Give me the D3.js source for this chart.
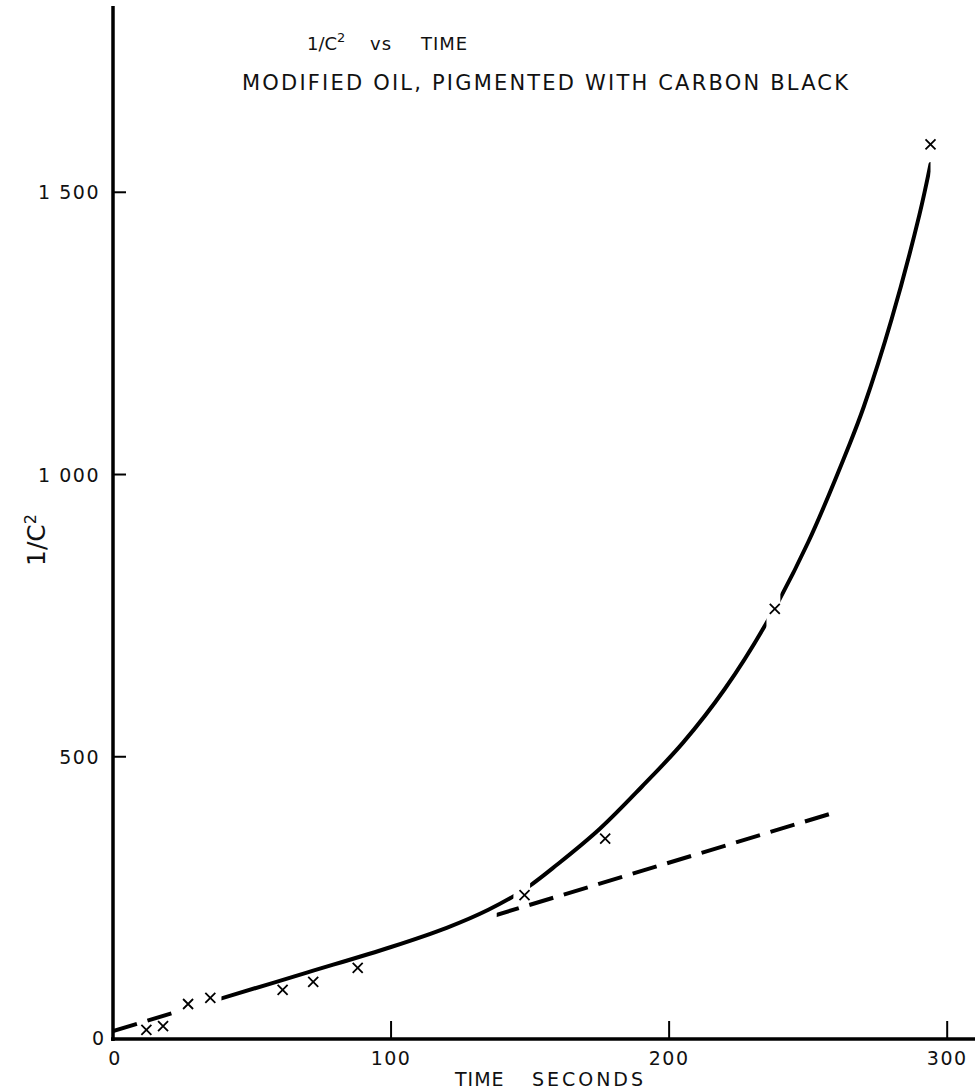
<!DOCTYPE html>
<html>
<head>
<meta charset="utf-8">
<script src="https://cdn.jsdelivr.net/npm/d3@7"></script>
<style>
  body { margin: 0; background: #fff; }
  text { font-family: "DejaVu Sans", sans-serif; fill: #111; }
</style>
</head>
<body>
<div id="chart"></div>
<script>
// Measured points (time s, 1/C^2)
const pointTime = [12, 18, 27, 35, 61, 72, 88, 148, 177, 238, 294];
const pointValue = [16, 23, 62, 73, 87, 101, 126, 255, 355, 762, 1585];

// Hand-drawn fitted curve, knots
const curveTime = [39, 70, 100, 120, 135, 148, 160, 175, 190, 205, 220, 235, 250, 265, 270, 280, 290, 294];
const curveValue = [72, 118, 163, 197, 229, 265, 310, 372, 446, 525, 620, 737, 880, 1055, 1120, 1275, 1460, 1550];
// solid pieces of the curve (gaps where it passes the crosses)
const curvePieces = [[39, 144], [150, 235], [240, 294]];

// Initial straight line (dashed extension)
const lineTime = [0, 260];
const lineValue = [14, 402];
const linePieces = [[0, 23], [138, 260]];

const xTicks = [100, 200, 300];
const yTicks = [500, 1000, 1500];
const yTickLabels = ["500", "1 000", "1 500"];

const W = 979, H = 1090;
const svg = d3.select("#chart").append("svg")
  .attr("width", W).attr("height", H);

const x = d3.scaleLinear().domain([0, 310]).range([113, 975]);
const y = d3.scaleLinear().domain([0, 1830]).range([1039, 6]);

// Axes
svg.append("line")
  .attr("x1", x(0)).attr("x2", x(0))
  .attr("y1", y(1830)).attr("y2", y(0) + 2)
  .attr("stroke", "#000").attr("stroke-width", 3.5);
svg.append("line")
  .attr("x1", x(0) - 2).attr("x2", x(310))
  .attr("y1", y(0)).attr("y2", y(0))
  .attr("stroke", "#000").attr("stroke-width", 3.5);

// X ticks (upward, no tick at 0)
svg.selectAll(".xtick").data(xTicks).enter().append("line")
  .attr("x1", d => x(d)).attr("x2", d => x(d))
  .attr("y1", y(0)).attr("y2", y(0) - 18)
  .attr("stroke", "#000").attr("stroke-width", 2);
svg.selectAll(".xlab").data([0].concat(xTicks)).enter().append("text")
  .attr("x", d => x(d) + (d === 0 ? 2 : 0))
  .attr("y", y(0) + 26)
  .attr("text-anchor", "middle")
  .style("font-size", "19px")
  .style("letter-spacing", "1.5px")
  .text(d => d);

// Y ticks (rightward)
svg.selectAll(".ytick").data(yTicks).enter().append("line")
  .attr("x1", x(0)).attr("x2", x(0) + 13)
  .attr("y1", d => y(d)).attr("y2", d => y(d))
  .attr("stroke", "#000").attr("stroke-width", 2);
svg.selectAll(".ylab").data(yTicks).enter().append("text")
  .attr("x", 100)
  .attr("y", d => y(d) + 7)
  .attr("text-anchor", "end")
  .style("font-size", "19px")
  .style("letter-spacing", "1.5px")
  .text((d, i) => yTickLabels[i]);
svg.append("text")
  .attr("x", 104).attr("y", y(0) + 6)
  .attr("text-anchor", "end")
  .style("font-size", "19px")
  .text("0");

// Axis titles
svg.append("text")
  .attr("x", 455).attr("y", 1086)
  .style("font-size", "19px")
  .style("letter-spacing", "1px")
  .text("TIME");
svg.append("text")
  .attr("x", 532).attr("y", 1086)
  .attr("textLength", 111).attr("lengthAdjust", "spacing")
  .style("font-size", "19px")
  .text("SECONDS");

const yTitle = svg.append("text")
  .attr("transform", "translate(45,540) rotate(-90)")
  .attr("text-anchor", "middle")
  .style("font-size", "25px");
yTitle.append("tspan").text("1/C");
yTitle.append("tspan").attr("dy", -9).style("font-size", "16px").text("2");

// Chart titles
const t1 = svg.append("text").attr("x", 307).attr("y", 50)
  .style("font-size", "18px");
t1.append("tspan").text("1/C");
t1.append("tspan").attr("dy", -8).style("font-size", "13px").text("2");
svg.append("text").attr("x", 370).attr("y", 50)
  .style("font-size", "18px").style("letter-spacing", "1px").text("vs");
svg.append("text").attr("x", 421).attr("y", 50)
  .style("font-size", "18px").style("letter-spacing", "1px").text("TIME");
svg.append("text").attr("x", 242).attr("y", 90)
  .attr("textLength", 606).attr("lengthAdjust", "spacing")
  .style("font-size", "21px")
  .text("MODIFIED OIL, PIGMENTED WITH CARBON BLACK");

// Clip paths for the pieces
function addClips(id, pieces) {
  pieces.forEach((p, i) => {
    svg.append("clipPath").attr("id", `${id}${i}`)
      .append("rect")
      .attr("x", x(p[0])).attr("width", x(p[1]) - x(p[0]))
      .attr("y", 0).attr("height", H);
  });
}
addClips("cclip", curvePieces);
addClips("lclip", linePieces);

// Fitted curve
const curveData = curveTime.map((t, i) => [t, curveValue[i]]);
const curveGen = d3.line()
  .x(d => x(d[0])).y(d => y(d[1]))
  .curve(d3.curveCatmullRom.alpha(0.5));
curvePieces.forEach((p, i) => {
  svg.append("path")
    .datum(curveData)
    .attr("d", curveGen)
    .attr("fill", "none")
    .attr("stroke", "#000")
    .attr("stroke-width", 4)
    .attr("stroke-linecap", "round")
    .attr("clip-path", `url(#cclip${i})`);
});

// Dashed straight line
const lineData = lineTime.map((t, i) => [t, lineValue[i]]);
const lineGen = d3.line().x(d => x(d[0])).y(d => y(d[1]));
linePieces.forEach((p, i) => {
  svg.append("path")
    .datum(lineData)
    .attr("d", lineGen)
    .attr("fill", "none")
    .attr("stroke", "#000")
    .attr("stroke-width", 4)
    .attr("stroke-dasharray", "25 11")
    .attr("stroke-dashoffset", i === 0 ? 0 : -3)
    .attr("clip-path", `url(#lclip${i})`);
});

// Crosses
const s = 5;
const pts = svg.selectAll(".pt")
  .data(pointTime.map((t, i) => [t, pointValue[i]]))
  .enter().append("g")
  .attr("transform", d => `translate(${x(d[0])},${y(d[1])})`);
pts.append("path")
  .attr("d", `M${-s},${-s}L${s},${s}M${-s},${s}L${s},${-s}`)
  .attr("stroke", "#000")
  .attr("stroke-width", 1.8)
  .attr("fill", "none");
</script>
</body>
</html>
